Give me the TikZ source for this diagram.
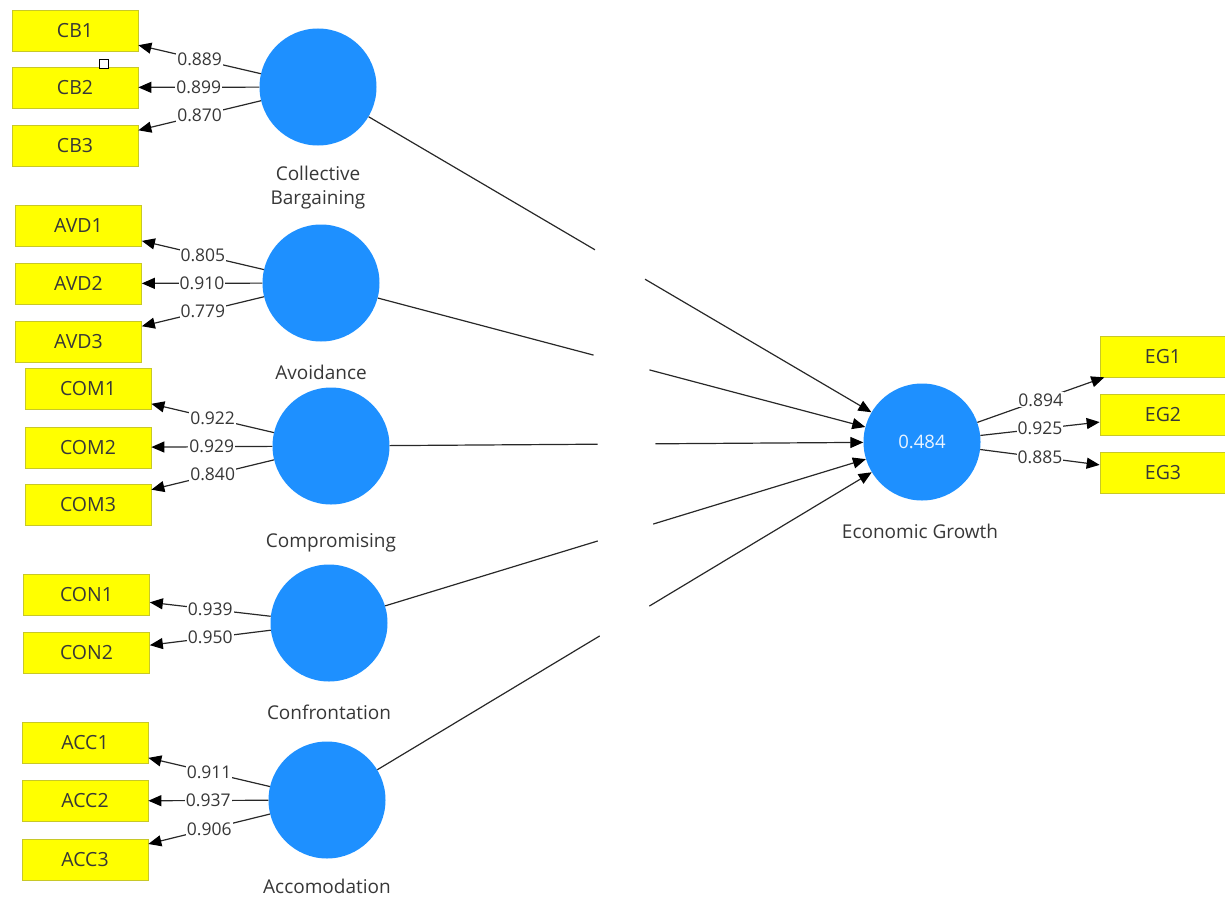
\documentclass[tikz,border=0pt]{standalone}
\usepackage{fontspec}
\setmainfont{Open Sans}
\usetikzlibrary{arrows.meta}
\definecolor{ind}{RGB}{255,255,0}
\definecolor{indb}{RGB}{200,200,40}
\definecolor{lat}{RGB}{30,144,255}
\definecolor{txt}{RGB}{55,55,55}
\definecolor{lin}{RGB}{40,40,40}
\begin{document}
\begin{tikzpicture}[x=1pt,y=-1pt,
  indbox/.style={rectangle,fill=ind,draw=indb,line width=0.7pt,minimum width=126pt,minimum height=41pt,inner sep=0pt,text=txt,font=\fontsize{19.5}{22}\selectfont},
  latent/.style={circle,fill=lat,minimum size=117pt,inner sep=0pt,text=white!90!lat,font=\fontsize{18.5}{20}\selectfont},
  lname/.style={text=txt,font=\fontsize{19}{24}\selectfont,align=center},
  load/.style={draw=lin,line width=1.2pt,-{Triangle[length=13pt,width=11pt,color=black]}},
  val/.style={fill=white,inner sep=1pt,text=txt,font=\fontsize{17.5}{19}\selectfont},
  gapn/.style={circle,fill=white,minimum size=58pt,inner sep=0pt},
  handle/.style={rectangle,draw=black,fill=white,line width=0.8pt,minimum size=9pt,inner sep=0pt}]
\useasboundingbox (0,0) rectangle (1225,899);
% latent variables
\node[latent] (cb) at (318,87) {};
\node[latent] (avd) at (321,283) {};
\node[latent] (com) at (331,446) {};
\node[latent] (con) at (329,623) {};
\node[latent] (acc) at (327,800) {};
\node[latent] (eg) at (922,442) {0.484};
% latent names
\node[lname] (cbn) at (318,188) {Collective\\Bargaining};
\node[lname] (avdn) at (321,372) {Avoidance};
\node[lname] (comn) at (331,543) {Compromising};
\node[lname] (conn) at (329,712) {Confrontation};
\node[lname] (accn) at (327,886) {Accomodation};
\node[lname] (egn) at (920,531) {Economic Growth};
% indicators
\node[indbox] (cb1) at (75,30.5) {CB1};
\node[indbox] (cb2) at (75,87.5) {CB2};
\node[indbox] (cb3) at (75,145.5) {CB3};
\node[indbox] (avd1) at (78.5,226) {AVD1};
\node[indbox] (avd2) at (78.5,283.5) {AVD2};
\node[indbox] (avd3) at (78.5,341.5) {AVD3};
\node[indbox] (com1) at (88,389) {COM1};
\node[indbox] (com2) at (88,447.5) {COM2};
\node[indbox] (com3) at (88,505) {COM3};
\node[indbox] (con1) at (86.5,595) {CON1};
\node[indbox] (con2) at (86.5,653) {CON2};
\node[indbox] (acc1) at (85,743) {ACC1};
\node[indbox] (acc2) at (85,801) {ACC2};
\node[indbox] (acc3) at (85,859.5) {ACC3};
\node[indbox] (eg1) at (1163,356.5) {EG1};
\node[indbox] (eg2) at (1163,415) {EG2};
\node[indbox] (eg3) at (1163,473) {EG3};
% selection handle
\node[handle] (h) at (104,64) {};
% loadings
\draw[load] (cb) -- (cb1) node[midway,val] {0.889};
\draw[load] (cb) -- (cb2) node[midway,val] {0.899};
\draw[load] (cb) -- (cb3) node[midway,val] {0.870};
\draw[load] (avd) -- (avd1) node[midway,val] {0.805};
\draw[load] (avd) -- (avd2) node[midway,val] {0.910};
\draw[load] (avd) -- (avd3) node[midway,val] {0.779};
\draw[load] (com) -- (com1) node[midway,val] {0.922};
\draw[load] (com) -- (com2) node[midway,val] {0.929};
\draw[load] (com) -- (com3) node[midway,val] {0.840};
\draw[load] (con) -- (con1) node[midway,val] {0.939};
\draw[load] (con) -- (con2) node[midway,val] {0.950};
\draw[load] (acc) -- (acc1) node[midway,val] {0.911};
\draw[load] (acc) -- (acc2) node[midway,val] {0.937};
\draw[load] (acc) -- (acc3) node[midway,val] {0.906};
\draw[load] (eg) -- (eg1) node[midway,val] {0.894};
\draw[load] (eg) -- (eg2) node[midway,val] {0.925};
\draw[load] (eg) -- (eg3) node[midway,val] {0.885};
% structural paths
\draw[load] (cb) -- (eg) node[midway,gapn] {};
\draw[load] (avd) -- (eg) node[midway,gapn] {};
\draw[load] (com) -- (eg) node[midway,gapn] {};
\draw[load] (con) -- (eg) node[midway,gapn] {};
\draw[load] (acc) -- (eg) node[midway,gapn] {};
\end{tikzpicture}
\end{document}
